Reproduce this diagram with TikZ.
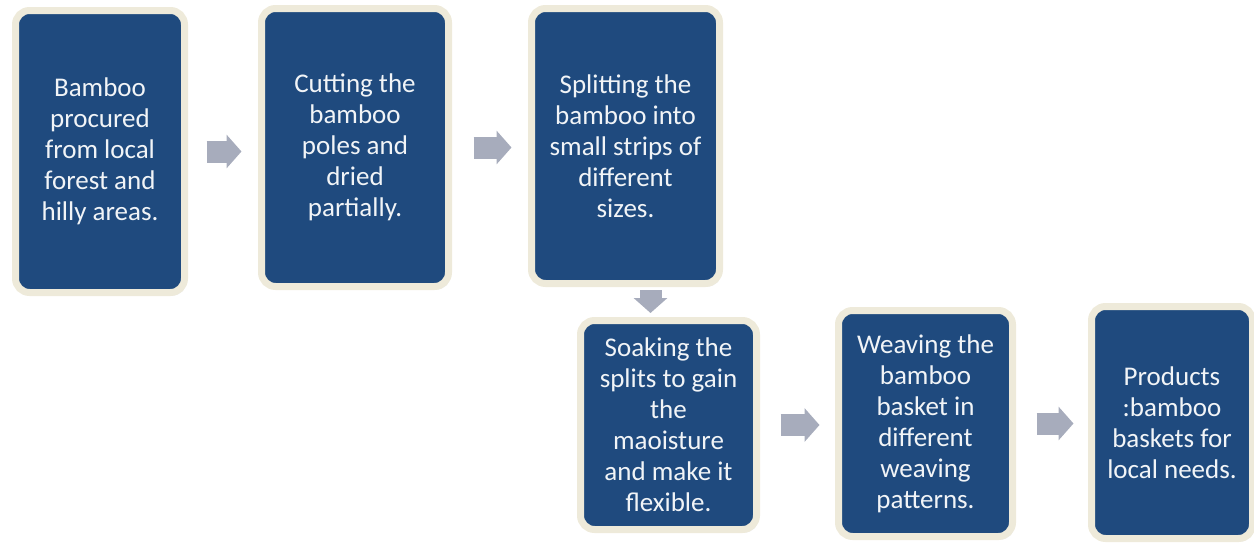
\documentclass[tikz,border=0pt]{standalone}
\usepackage{fontspec}
\setmainfont{Carlito}
\usetikzlibrary{arrows.meta,shadows}
\definecolor{boxblue}{HTML}{1F4A7E}
\definecolor{boxrim}{HTML}{EEEADA}
\definecolor{arrowgray}{HTML}{A7ACBC}
\begin{document}
\begin{tikzpicture}[x=1pt, y=-1pt,
  stage/.style={draw=boxrim, line width=7pt, fill=boxblue, rounded corners=14pt,
    text=white!94!boxblue, align=center, inner sep=0pt,
    font=\fontsize{27}{31}\selectfont,
    drop shadow={opacity=0.18, shadow xshift=2pt, shadow yshift=-3pt}},
  flow/.style={draw=arrowgray, line width=22pt, -{Triangle[width=33pt,length=15pt]}}]
\useasboundingbox (0,0) rectangle (1254,544);
\node (b1) at (100,151.5)[stage, minimum width=169pt, minimum height=282pt]{Bamboo\\procured\\from local\\forest and\\hilly areas.};
\node (b2) at (355,147.5)[stage, minimum width=187pt, minimum height=278pt]{Cutting the\\bamboo\\poles and\\dried\\partially.};
\node (b3) at (625.5,146)[stage, minimum width=188pt, minimum height=275pt]{Splitting the\\bamboo into\\small strips of\\different\\sizes.};
\node (b4) at (668.5,425)[stage, minimum width=176pt, minimum height=209pt]{Soaking the\\splits to gain\\the\\maoisture\\and make it\\flexible.};
\node (b5) at (925.5,423.5)[stage, minimum width=174pt, minimum height=226pt]{Weaving the\\bamboo\\basket in\\different\\weaving\\patterns.};
\node (b6) at (1172,422.5)[stage, minimum width=161pt, minimum height=232pt]{Products\\:bamboo\\baskets for\\local needs.};
\draw[flow, shorten <=18.5pt, shorten >=16.5pt](b1.east)--(b1.east -| b2.west);
\draw[flow, shorten <=21.5pt, shorten >=16.5pt](b2.east)--(b2.east -| b3.west);
\draw[flow, shorten <=3pt, shorten >=4pt]([xshift=25pt]b3.south)--([xshift=25pt]b3.south |- b4.north);
\draw[flow, shorten <=20.5pt, shorten >=15.5pt](b4.east)--(b4.east -| b5.west);
\draw[flow, shorten <=20.5pt, shorten >=14.5pt](b5.east)--(b5.east -| b6.west);
\end{tikzpicture}
\end{document}
